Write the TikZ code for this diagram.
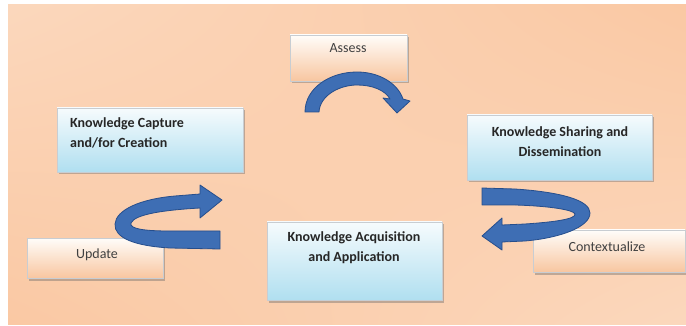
\documentclass[tikz,border=0pt]{standalone}
\usepackage{fontspec}
\setmainfont{Carlito}
\usetikzlibrary{shadows}
\definecolor{arrfill}{RGB}{62,110,180}
\definecolor{arredge}{RGB}{38,78,140}
\definecolor{blueT}{RGB}{246,251,253}
\definecolor{blueB}{RGB}{176,223,240}
\definecolor{peachT}{RGB}{255,253,250}
\definecolor{peachB}{RGB}{248,198,160}
\definecolor{boxedge}{RGB}{200,205,210}
\definecolor{txt}{RGB}{38,38,38}
\pgfdeclarefunctionalshading{bgshade}{\pgfpoint{0bp}{0bp}}{\pgfpoint{100bp}{100bp}}{}{
  100 div exch 100 div
  2 copy mul 2 mul 3 1 roll add neg add 1 add
  dup -0.025 mul 0.995 add exch
  dup -0.24 mul 0.935 add exch
  -0.39 mul 0.885 add
}
\tikzset{
  x=1pt, y=-1pt,
  boxbase/.style={draw=boxedge, line width=0.5pt, inner sep=0pt,
    drop shadow={shadow xshift=2pt, shadow yshift=-2.5pt, opacity=0.4, fill=black!60}},
  bluebox/.style={boxbase, top color=blueT, bottom color=blueB},
  peachbox/.style={boxbase, top color=peachT, bottom color=peachB},
  boldtxt/.style={inner sep=0pt, text=txt, font=\fontsize{14}{20}\selectfont\bfseries},
  plaintxt/.style={inner sep=0pt, text=black!75, font=\fontsize{14}{20}\selectfont},
  bluearrow/.style={fill=arrfill, draw=arredge, line width=0.8pt, line join=round}
}
\begin{document}
\begin{tikzpicture}
\useasboundingbox (0,0) rectangle (686,326);
\shade[shading=bgshade] (8,5) rectangle (686,324);

% boxes
\node[peachbox, minimum width=117pt, minimum height=46pt] (assess) at (348.5,58) {};
\node[bluebox, minimum width=186pt, minimum height=64pt] (capture) at (150,140) {};
\node[bluebox, minimum width=185pt, minimum height=65pt] (sharing) at (559.5,147.5) {};
\node[bluebox, minimum width=175pt, minimum height=78pt] (acq) at (354.5,261) {};
\node[peachbox, minimum width=136pt, minimum height=40pt] (update) at (95,258) {};
\node[peachbox, minimum width=152pt, minimum height=42pt] (context) at (609,251) {};

% texts
\node[plaintxt] (assesst) at (348,48) {Assess};
\node[boldtxt, anchor=west, align=left] (capturet) at (70,133) {Knowledge Capture\\and/for Creation};
\node[boldtxt, align=center] (sharingt) at (560,141.5) {Knowledge Sharing and\\Dissemination};
\node[boldtxt, align=center] (acqt) at (354,248) {Knowledge Acquisition\\and Application};
\node[plaintxt] (updatet) at (97,255) {Update};
\node[plaintxt] (contextt) at (607,247) {Contextualize};

% arrows
\path[bluearrow] (305,112) .. controls (305,88) and (330,72) .. (357,72)
  .. controls (380,72) and (398,84) .. (403,99) -- (410,101) -- (397,113) -- (383,98) -- (390,99)
  .. controls (385,90) and (372,85) .. (357,85) .. controls (340,85) and (320,95) .. (319,112) -- cycle;

\path[bluearrow] (220,249) -- (170,248) .. controls (135,246) and (114,238) .. (115,224)
  .. controls (116,210) and (140,199) .. (175,196) -- (200,194) -- (200,185) -- (222,200)
  -- (200,218) -- (200,208) .. controls (165,210) and (135,214) .. (131,223)
  .. controls (129,229) and (145,231) .. (170,231) -- (220,231) -- cycle;

\path[bluearrow] (482,188) -- (515,189) .. controls (560,192) and (590,200) .. (590,213)
  .. controls (590,227) and (560,238) .. (525,241) -- (502,242) -- (502,250) -- (482,236)
  -- (502,218) -- (502,225) -- (525,224) .. controls (555,222) and (576,219) .. (575,214)
  .. controls (574,210) and (550,206) .. (515,205) -- (482,205) -- cycle;
\end{tikzpicture}
\end{document}
